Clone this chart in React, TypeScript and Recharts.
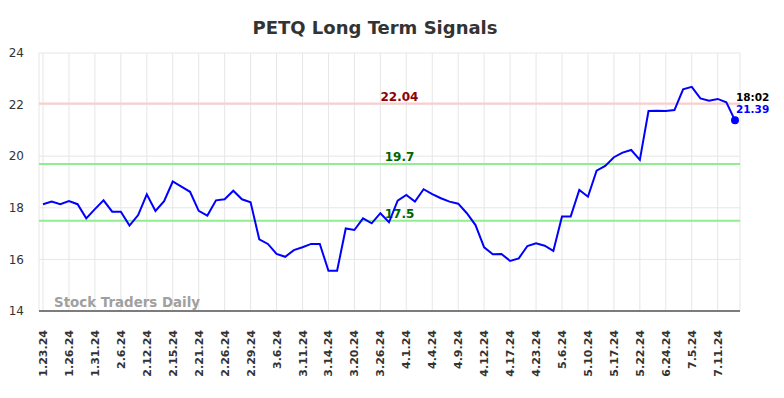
import { LineChart, Line, XAxis, YAxis, CartesianGrid, ReferenceLine } from "recharts";

// ─── Data ────────────────────────────────────────────────────────────────────

const DATES = [
  "1.23.24", "1.24.24", "1.25.24", "1.26.24", "1.29.24", "1.30.24",
  "1.31.24", "2.1.24", "2.5.24", "2.6.24", "2.7.24", "2.8.24",
  "2.12.24", "2.13.24", "2.14.24", "2.15.24", "2.16.24", "2.20.24",
  "2.21.24", "2.22.24", "2.23.24", "2.26.24", "2.27.24", "2.28.24",
  "2.29.24", "3.1.24", "3.5.24", "3.6.24", "3.7.24", "3.8.24",
  "3.11.24", "3.12.24", "3.13.24", "3.14.24", "3.15.24", "3.19.24",
  "3.20.24", "3.21.24", "3.22.24", "3.26.24", "3.27.24", "3.28.24",
  "4.1.24", "4.2.24", "4.3.24", "4.4.24", "4.5.24", "4.8.24",
  "4.9.24", "4.10.24", "4.11.24", "4.12.24", "4.15.24", "4.16.24",
  "4.17.24", "4.18.24", "4.22.24", "4.23.24", "4.25.24", "5.2.24",
  "5.6.24", "5.7.24", "5.9.24", "5.10.24", "5.14.24", "5.16.24",
  "5.17.24", "5.20.24", "5.21.24", "5.22.24", "6.3.24", "6.14.24",
  "6.24.24", "6.27.24", "7.2.24", "7.5.24", "7.8.24", "7.9.24",
  "7.11.24", "7.12.24", "7.15.24",
];

const PRICES = [
  18.14, 18.24, 18.14, 18.26, 18.14, 17.59,
  17.95, 18.29, 17.85, 17.85, 17.31, 17.72,
  18.52, 17.88, 18.26, 19.02, 18.82, 18.62,
  17.88, 17.7, 18.29, 18.33, 18.66, 18.33,
  18.21, 16.78, 16.6, 16.21, 16.1, 16.36,
  16.47, 16.6, 16.6, 15.56, 15.56, 17.2,
  17.14, 17.59, 17.4, 17.79, 17.44, 18.28,
  18.5, 18.24, 18.72, 18.53, 18.37, 18.24,
  18.16, 17.79, 17.33, 16.47, 16.2, 16.21,
  15.94, 16.04, 16.52, 16.62, 16.53, 16.33,
  17.66, 17.66, 18.69, 18.43, 19.44, 19.62,
  19.96, 20.14, 20.24, 19.86, 21.75, 21.76,
  21.75, 21.79, 22.59, 22.69, 22.24, 22.15,
  22.22, 22.09, 21.39,
];

const Y_TICKS = [14, 16, 18, 20, 22, 24];
const RESISTANCE = 22.04;
const SUPPORTS = [19.7, 17.5];
const LAST_TIME = "18:02";

const data = DATES.map((date, i) => ({ date, price: PRICES[i] }));
const xTicks = DATES.filter((_, i) => i % 3 === 0 && i <= 78);
const lastIndex = data.length - 1;

const FONT = "'DejaVu Sans', sans-serif";

// ─── Pieces ──────────────────────────────────────────────────────────────────

function DateTick({ x, y, payload }: any) {
  return (
    <text
      x={x + 4}
      y={y + 11}
      transform={`rotate(-90, ${x + 4}, ${y + 11})`}
      textAnchor="end"
      fontSize={11}
      fontWeight="bold"
      fontFamily={FONT}
      fill="#333"
    >
      {payload.value}
    </text>
  );
}

function levelLabel(value: number, color: string) {
  return ({ viewBox }: any) => (
    <text
      x={399.5}
      y={viewBox.y - 2.5}
      textAnchor="middle"
      fontSize={12}
      fontWeight="bold"
      fontFamily={FONT}
      fill={color}
    >
      {value}
    </text>
  );
}

function LastDot({ cx, cy, index }: any) {
  if (index !== lastIndex) return null;
  return (
    <g>
      <circle cx={cx} cy={cy} r={4} fill="#0000ff" />
      <text x={cx + 1} y={cy - 19} fontSize={10.5} fontWeight="bold" fontFamily={FONT} fill="#000">
        {LAST_TIME}
      </text>
      <text x={cx + 1} y={cy - 7} fontSize={10.5} fontWeight="bold" fontFamily={FONT} fill="#0000ff">
        {PRICES[lastIndex]}
      </text>
    </g>
  );
}

// ─── Component ───────────────────────────────────────────────────────────────

export default function App() {
  return (
    <div style={{ position: "absolute", left: 0, top: 0, width: 784, height: 398, background: "#fff" }}>
      <svg width={784} height={40} style={{ position: "absolute", left: 0, top: 0 }}>
        <text
          x={375}
          y={33.5}
          textAnchor="middle"
          fontSize={18}
          fontWeight="bold"
          fontFamily={FONT}
          fill="#333"
        >
          PETQ Long Term Signals
        </text>
      </svg>
      <LineChart
        width={784}
        height={398}
        data={data}
        margin={{ top: 53, right: 44, bottom: 0, left: 0 }}
        style={{ position: "absolute", left: 0, top: 0 }}
      >
        <CartesianGrid stroke="#e6e6e6" strokeWidth={1} />
        <XAxis
          dataKey="date"
          scale="point"
          ticks={xTicks}
          interval={0}
          padding={{ left: 4, right: 5 }}
          height={87}
          tickLine={false}
          axisLine={{ stroke: "#555", strokeWidth: 1.5 }}
          tick={<DateTick />}
        />
        <YAxis
          domain={[14, 24]}
          ticks={Y_TICKS}
          width={39}
          axisLine={false}
          tickLine={false}
          tickMargin={9}
          tick={{ fontSize: 12, fill: "#333", fontFamily: FONT }}
        />
        <text x={54} y={307} fontSize={13.4} fontWeight="bold" fontFamily={FONT} fill="#a0a0a0">
          Stock Traders Daily
        </text>
        <ReferenceLine y={RESISTANCE} stroke="#ffcccc" strokeWidth={2} label={levelLabel(RESISTANCE, "#8b0000")} />
        {SUPPORTS.map((s) => (
          <ReferenceLine key={s} y={s} stroke="#90ee90" strokeWidth={2} label={levelLabel(s, "#006400")} />
        ))}
        <Line
          type="linear"
          dataKey="price"
          stroke="#0000ff"
          strokeWidth={2}
          dot={<LastDot />}
          activeDot={false}
          isAnimationActive={false}
        />
      </LineChart>
    </div>
  );
}
